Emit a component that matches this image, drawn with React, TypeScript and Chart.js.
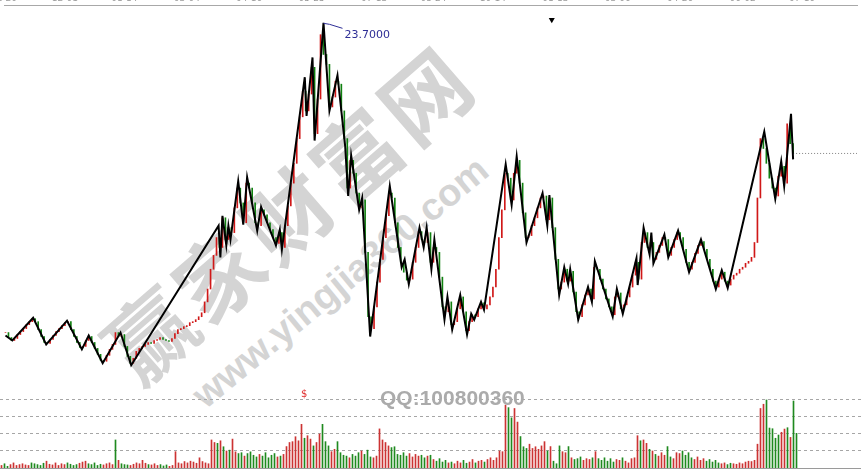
import { useEffect, useRef } from "react";
import { Chart, registerables } from "chart.js";
Chart.register(...registerables);

// daily closing prices (yuan), one per trading day
const closes = [
  8.05, 7.8, 7.65, 7.75, 7.95, 8.1, 8.25, 8.45, 8.6, 8.75,
  8.6, 8.2, 7.85, 7.55, 7.5, 7.7, 7.9, 8.1, 8.25, 8.4,
  8.55, 8.6, 8.2, 7.85, 7.55, 7.3, 7.35, 7.65, 7.85, 7.55,
  7.25, 6.95, 6.65, 6.6, 6.9, 7.2, 7.45, 8.05, 7.85, 7.95,
  7.35, 6.85, 6.5, 6.75, 7.1, 7.25, 7.35, 7.45, 7.55, 7.5,
  7.65, 7.7, 7.8, 7.7, 7.65, 7.6, 7.75, 8.0, 8.2, 8.25,
  8.35, 8.4, 8.55, 8.6, 8.7, 8.85, 9.05, 9.6, 10.25, 11.25,
  11.95, 12.85, 12.35, 13.85, 12.75, 13.35, 13.1, 14.35, 15.35, 14.6,
  13.6, 15.6, 15.35, 14.6, 13.6, 13.45, 14.25, 14.0, 13.6, 13.25,
  12.85, 12.55, 13.1, 12.35, 13.45, 14.45, 15.6, 16.6, 17.85, 18.95,
  20.25, 19.25, 20.1, 21.45, 18.1, 19.85, 23.1, 22.1, 21.6, 19.45,
  19.95, 20.75, 20.6, 19.25, 17.85, 15.35, 16.75, 16.1, 15.1, 14.35,
  14.75, 12.1, 8.85, 8.25, 9.35, 10.6, 11.75, 12.85, 13.95, 15.1,
  14.85, 13.6, 12.35, 11.6, 11.1, 10.7, 10.75, 11.6, 12.35, 13.15,
  12.75, 12.6, 13.1, 11.6, 12.35, 12.1, 10.85, 9.35, 9.1, 9.6,
  8.45, 8.6, 9.25, 9.85, 9.1, 8.15, 8.6, 8.95, 8.85, 9.25,
  9.55, 9.25, 9.45, 9.85, 10.35, 11.25, 12.85, 14.25, 16.1, 15.85,
  14.75, 16.1, 16.75, 15.6, 14.1, 12.85, 12.95, 13.45, 13.85, 14.35,
  14.85, 14.95, 13.75, 14.85, 13.35, 11.75, 10.25, 10.6, 11.25, 10.65,
  11.15, 10.1, 9.1, 8.85, 9.45, 9.95, 10.25, 9.75, 11.35, 11.25,
  10.75, 10.25, 9.75, 9.35, 8.95, 9.85, 10.05, 9.25, 9.45, 9.85,
  10.35, 10.95, 11.6, 10.75, 12.6, 13.1, 12.35, 12.6, 11.75, 12.1,
  12.45, 12.85, 12.75, 11.95, 12.35, 12.75, 13.1, 12.85, 12.25, 11.6,
  11.25, 11.6, 12.05, 12.45, 12.65, 12.25, 11.75, 11.25, 10.65, 10.35,
  10.75, 11.1, 10.65, 10.45, 10.75, 10.95, 11.05, 11.25, 11.35, 11.55,
  11.65, 11.85, 12.6, 14.85, 17.85, 17.35, 16.6, 15.85, 15.35, 14.95,
  15.95, 16.45, 15.6, 18.6, 17.6, 17.1,
];

// daily volume (grid step = 100)
const volumes = [
  15, 25, 10, 20, 30, 15, 20, 25, 18, 15,
  30, 25, 20, 15, 28, 40, 22, 18, 30, 15,
  25, 20, 30, 22, 15, 20, 28, 35, 40, 25,
  20, 30, 15, 22, 18, 25, 30, 20, 165, 45,
  25, 20, 18, 15, 22, 30, 25, 45, 28, 20,
  18, 25, 15, 20, 12, 18, 10, 15, 96, 30,
  25, 38, 30, 40, 35, 28, 60, 38, 30, 25,
  165, 150, 145, 160, 125, 100, 105, 170, 95, 85,
  90, 70, 85, 95, 75, 65, 80, 70, 90, 60,
  75, 85, 65, 70, 80, 126, 150, 155, 184, 160,
  257, 175, 190, 170, 130, 150, 200, 257, 155, 130,
  96, 110, 155, 90, 75, 70, 60, 80, 70, 90,
  100, 80, 105, 65, 60, 70, 230, 165, 150, 130,
  120, 125, 80, 75, 90, 70, 85, 65, 80, 70,
  75, 60, 70, 75, 50, 40, 55, 35, 45, 30,
  35, 25, 40, 30, 45, 28, 35, 50, 30, 40,
  45, 35, 50, 60, 45, 60, 100, 96, 370, 355,
  295, 350, 270, 185, 125, 115, 140, 115, 125, 110,
  130, 155, 100, 126, 40, 25, 130, 96, 90, 126,
  60, 50, 55, 65, 45, 55, 50, 60, 96, 55,
  45, 60, 40, 55, 35, 50, 45, 60, 40, 30,
  55, 60, 190, 160, 165, 145, 110, 100, 80, 70,
  90, 75, 126, 65, 55, 90, 85, 100, 75, 90,
  60, 50, 65, 45, 55, 40, 50, 35, 45, 30,
  25, 30, 20, 28, 25, 22, 30, 25, 35, 40,
  38, 45, 140, 350, 375, 400, 235, 231, 175, 194,
  210, 229, 237, 180, 394, 204,
];

// zigzag turning points (position in trading days, price)
const zigX = [
  0, 2.3, 9.3, 13.7, 20.7, 25.7, 28, 32.7, 38.7, 42.3,
  71.7, 72.3, 73, 74.3, 75, 75.7, 78.3, 80, 81.3, 84.7,
  86, 91, 92.3, 93, 100.7, 101.3, 103.3, 104, 107, 109,
  111.7, 114.3, 115.3, 116.3, 119, 120, 122.7, 129.3, 133.3, 134.3,
  135.7, 139.3, 140.7, 141.7, 143.3, 144.3, 147.7, 148.7, 150.3, 153,
  155.3, 156.7, 157.7, 160, 161, 168.3, 170.3, 172, 175.3, 180.7,
  182.3, 183, 186.3, 188, 189.3, 190, 192.7, 196, 197.3, 198.3,
  204.3, 205.7, 207.7, 212.3, 212.7, 214.7, 216.7, 217.3, 218, 221.7,
  223, 226.3, 230, 234, 239, 241, 243, 255.3, 259, 261,
  262, 264.3, 265,
];
const zigY = [
  7.9, 7.65, 8.8, 7.45, 8.65, 7.2, 7.9, 6.5, 8.05, 6.4,
  13.45, 11.85, 13.95, 12.45, 13.45, 12.75, 15.7, 13.5, 15.9, 13.2,
  14.4, 12.45, 13.25, 12.25, 20.95, 19.0, 21.95, 17.75, 23.7, 19.25,
  21.05, 17.45, 14.95, 17.0, 14.25, 14.85, 7.85, 15.45, 11.35, 11.75,
  10.5, 13.35, 12.35, 13.35, 11.25, 12.75, 8.7, 9.85, 8.2, 9.95,
  7.95, 9.0, 8.7, 9.6, 9.2, 16.55, 14.5, 16.95, 12.6, 15.1,
  13.45, 15.0, 9.95, 11.35, 10.5, 11.25, 8.7, 10.35, 9.6, 11.65,
  8.85, 10.25, 9.0, 11.8, 10.45, 13.35, 12.0, 13.1, 11.55, 13.0,
  11.85, 13.2, 11.1, 12.75, 10.25, 11.2, 10.3, 18.2, 14.8, 16.7,
  15.45, 19.1, 16.8,
];

// top axis date labels and their positions (trading days)
const dateTickIdx = [-0.5, 20, 40, 61, 82, 103, 124, 144, 164, 185, 206, 227, 248, 268];
const dateLabels = ["11-20", "12-01", "01-14", "03-04", "04-16", "05-25", "07-13", "08-24", "10-14", "01-13", "03-06", "04-26", "06-02", "07-16"];

const lastPrice = 17.1;
const markerX = 183.8;
const markerY = 23.85;
const volumeGrid = [100, 200, 300, 400];

const X_MIN = -0.5;
const X_MAX = 286.5;
const RED = "#d01818";
const GREEN = "#108010";
const VRED = "#cc3333";
const VGREEN = "#1f8a1f";

const opens = closes.map((c, i) => (i === 0 ? c : closes[i - 1]));
const isUp = closes.map((c, i) => c >= opens[i]);

export default function App() {
  const priceRef = useRef<HTMLCanvasElement>(null);
  const volRef = useRef<HTMLCanvasElement>(null);

  useEffect(() => {
    const peakPlugin = {
      id: "peakLabel",
      afterDatasetsDraw(chart: any) {
        const { ctx, scales } = chart;
        let k = 0;
        zigY.forEach((v, i) => {
          if (v > zigY[k]) k = i;
        });
        const px = scales.x.getPixelForValue(zigX[k]);
        const py = scales.y.getPixelForValue(zigY[k]);
        ctx.save();
        ctx.strokeStyle = "#2e2e96";
        ctx.lineWidth = 1;
        ctx.beginPath();
        ctx.moveTo(px, py + 0.5);
        ctx.lineTo(px + 6, py + 1.5);
        ctx.lineTo(px + 19, py + 5.5);
        ctx.stroke();
        ctx.fillStyle = "#2e2e96";
        ctx.font = '11px "DejaVu Sans"';
        ctx.textBaseline = "middle";
        ctx.fillText(zigY[k].toFixed(4), px + 21, py + 12);
        ctx.restore();
      },
    };

    const price = new Chart(priceRef.current!, {
      type: "bar",
      data: {
        datasets: [
          {
            type: "line",
            data: zigX.map((x, i) => ({ x, y: zigY[i] })),
            borderColor: "#000",
            borderWidth: 2,
            pointRadius: 0,
            tension: 0,
            order: 0,
          } as any,
          {
            type: "scatter",
            data: [{ x: markerX, y: markerY }],
            pointStyle: "triangle",
            rotation: 180,
            radius: 3.5,
            backgroundColor: "#000",
            borderWidth: 0,
            order: 0,
          } as any,
          {
            type: "line",
            data: [
              { x: closes.length - 1, y: lastPrice },
              { x: X_MAX, y: lastPrice },
            ],
            borderColor: "#808080",
            borderWidth: 1,
            borderDash: [1, 2],
            pointRadius: 0,
            order: 1,
          } as any,
          {
            type: "bar",
            data: closes.map((c, i) => ({ x: i, y: [opens[i], c] })),
            backgroundColor: isUp.map((u) => (u ? RED : GREEN)),
            barThickness: 1,
            grouped: false,
            order: 2,
          } as any,
        ],
      },
      options: {
        animation: false,
        responsive: false,
        maintainAspectRatio: false,
        events: [],
        layout: { padding: 0 },
        plugins: { legend: { display: false }, tooltip: { enabled: false } },
        scales: {
          x: {
            type: "linear",
            position: "top",
            min: X_MIN,
            max: X_MAX,
            offset: false,
            grid: { display: true, drawOnChartArea: false, drawTicks: false },
            border: { display: true, color: "#a8a8a8", width: 1 },
            ticks: {
              autoSkip: false,
              maxRotation: 0,
              color: "#9a9a9a",
              padding: 1,
              font: { size: 9, family: "DejaVu Sans" },
              callback: (_v: any, i: number) => dateLabels[i] ?? "",
            },
            afterBuildTicks: (ax: any) => {
              ax.ticks = dateTickIdx.map((v) => ({ value: v }));
            },
            afterFit: (ax: any) => {
              ax.height = 20;
              ax.paddingLeft = 0;
              ax.paddingRight = 0;
            },
          },
          y: { type: "linear", display: false, min: 5.35, max: 24.6 },
        },
      } as any,
      plugins: [peakPlugin],
    });

    const vol = new Chart(volRef.current!, {
      type: "bar",
      data: {
        datasets: [
          {
            data: volumes.map((v, i) => ({ x: i, y: v })),
            backgroundColor: isUp.map((u) => (u ? VRED : VGREEN)),
            barThickness: 1,
            grouped: false,
          } as any,
        ],
      },
      options: {
        animation: false,
        responsive: false,
        maintainAspectRatio: false,
        events: [],
        layout: { padding: { bottom: 1 } },
        plugins: { legend: { display: false }, tooltip: { enabled: false } },
        scales: {
          x: {
            type: "linear",
            position: "bottom",
            min: X_MIN,
            max: X_MAX,
            offset: false,
            grid: { display: true, drawOnChartArea: false, drawTicks: false },
            border: { display: true, color: "#9a9a9a", width: 1 },
            ticks: { display: false },
            afterFit: (ax: any) => {
              ax.height = 0;
              ax.paddingLeft = 0;
              ax.paddingRight = 0;
            },
          },
          y: {
            type: "linear",
            position: "left",
            min: 0,
            max: 494,
            grid: { color: "#a6a6a6", drawTicks: false, lineWidth: 1 },
            border: { display: false, dash: [3, 3] },
            ticks: { display: false },
            afterBuildTicks: (ax: any) => {
              ax.ticks = volumeGrid.map((v) => ({ value: v }));
            },
            afterFit: (ax: any) => {
              ax.width = 0;
            },
          },
        },
      } as any,
    });

    return () => {
      price.destroy();
      vol.destroy();
    };
  }, []);

  const wm = "#d4d4d4";
  return (
    <div
      style={{
        position: "fixed",
        left: 0,
        top: 0,
        width: 861,
        height: 469,
        overflow: "hidden",
        background: "#fff",
      }}
    >
      <div
        style={{
          position: "absolute",
          left: 287,
          top: 211,
          transform: "translate(-50%, -50%) rotate(-41deg)",
          fontFamily: '"Noto Sans CJK SC"',
          fontWeight: 700,
          fontSize: 86,
          letterSpacing: 5,
          lineHeight: 1,
          color: wm,
          whiteSpace: "nowrap",
        }}
      >
        赢家财富网
      </div>
      <div
        style={{
          position: "absolute",
          left: 340,
          top: 282,
          transform: "translate(-50%, -50%) rotate(-39.5deg)",
          fontFamily: '"Liberation Sans", Arial, sans-serif',
          fontWeight: 700,
          fontSize: 38,
          lineHeight: 1,
          color: wm,
          whiteSpace: "nowrap",
        }}
      >
        www.yingjia360.com
      </div>
      <canvas
        ref={priceRef}
        width={861}
        height={405}
        style={{ position: "absolute", left: 0, top: -15, width: 861, height: 405 }}
      />
      <canvas
        ref={volRef}
        width={861}
        height={85}
        style={{ position: "absolute", left: 0, top: 384, width: 861, height: 85 }}
      />
      <div
        style={{
          position: "absolute",
          left: 380,
          top: 387,
          fontFamily: '"Liberation Sans", Arial, sans-serif',
          fontWeight: 700,
          fontSize: 21,
          lineHeight: "21px",
          color: "#ababab",
          whiteSpace: "nowrap",
        }}
      >
        QQ:100800360
      </div>
      <div
        style={{
          position: "absolute",
          left: 301,
          top: 388,
          fontFamily: '"DejaVu Sans", sans-serif',
          fontSize: 10,
          lineHeight: "12px",
          color: "#e03030",
        }}
      >
        $
      </div>
    </div>
  );
}
